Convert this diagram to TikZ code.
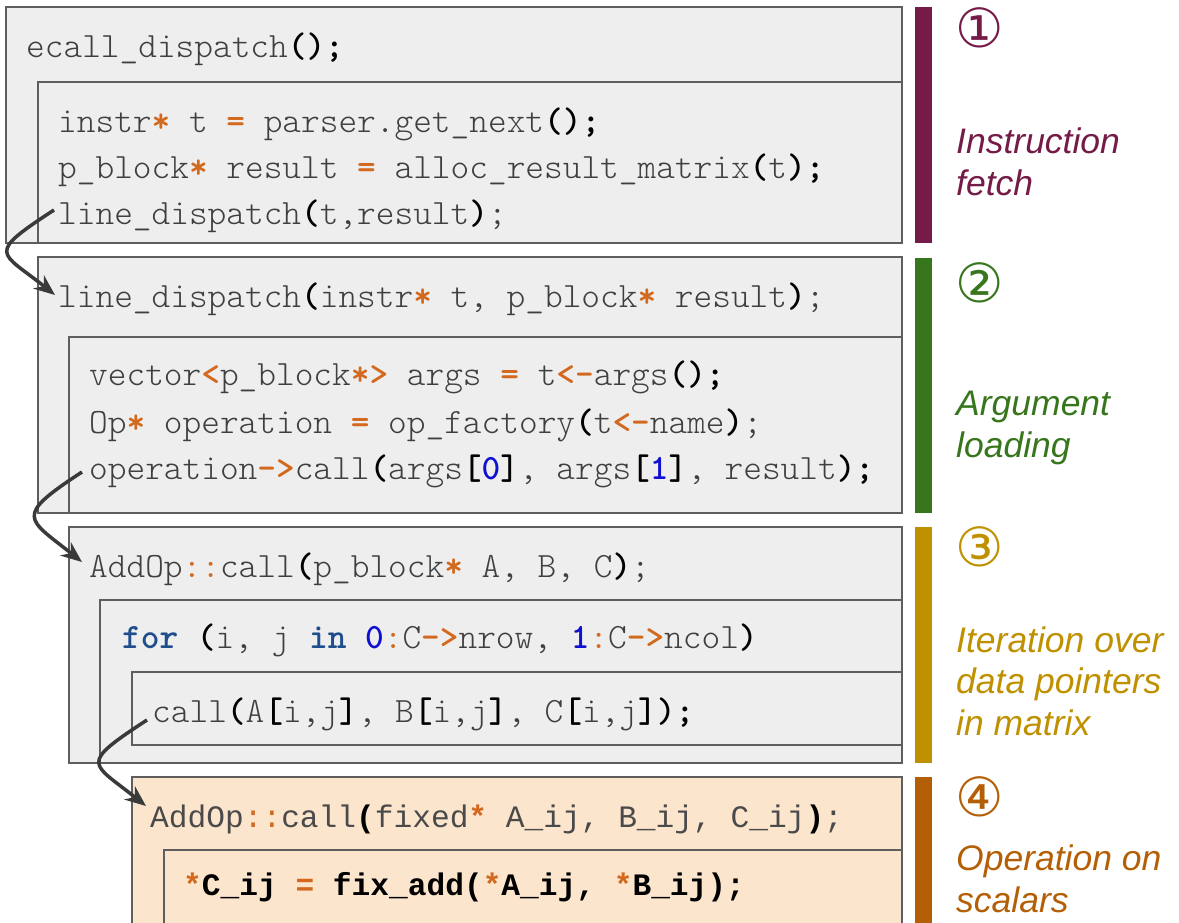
\documentclass[tikz,border=0pt]{standalone}
\usepackage{fontspec}
\usepackage{xcolor}
\usetikzlibrary{arrows.meta}
\newfontfamily\labfont{Liberation Sans}
\newfontfamily\circfont{DejaVu Sans}
\newfontfamily\libmono{Liberation Mono}
\definecolor{cmag}{HTML}{741B47}
\definecolor{cgrn}{HTML}{38761D}
\definecolor{cyel}{HTML}{BF9000}
\definecolor{corg}{HTML}{B45F06}
\definecolor{boxfill}{HTML}{EEEEEE}
\definecolor{peach}{HTML}{FCE5CD}
\definecolor{edge}{HTML}{5E5E5E}
\definecolor{codec}{HTML}{3F3F3F}
\definecolor{codeb}{HTML}{4A4A4A}
\definecolor{opc}{HTML}{D2691E}
\definecolor{kwc}{HTML}{1F4E8C}
\definecolor{numc}{HTML}{1010D0}
\definecolor{arrc}{HTML}{3A3A3A}
\newcommand\cop[1]{{\color{opc}\bfseries #1}}
\newcommand\copl[1]{{\color{opc}#1}}
\newcommand\cpu[1]{{\color{black}\bfseries #1}}
\newcommand\ckw[1]{{\color{kwc}\bfseries #1}}
\newcommand\cnum[1]{{\color{numc}\bfseries #1}}
\newcommand\codefont{\fontsize{35.6pt}{40pt}\ttfamily\fontseries{l}\selectfont}
\newcommand\codefontb{\fontsize{31.2pt}{36pt}\libmono}
\begin{document}
\begin{tikzpicture}[x=1pt,y=-1pt,
  box/.style={draw=edge, line width=2pt, fill=boxfill},
  pbox/.style={draw=edge, line width=2pt, fill=peach},
  code/.style={anchor=base west, inner sep=0pt, font=\codefont, text=codec},
  codeb/.style={anchor=base west, inner sep=0pt, font=\codefontb, text=codeb},
  lab/.style={anchor=base west, inner sep=0pt, font=\fontsize{35.5pt}{42pt}\labfont\itshape},
  circ/.style={inner sep=0pt, font=\fontsize{54pt}{58pt}\circfont},
  arr/.style={draw=arrc, line width=3.5pt, -{Stealth[length=21pt,width=17pt]}}]
\useasboundingbox (0,0) rectangle (1179,922);
\clip (0,0) rectangle (1179,922);
% boxes
\path[box] (6,7) rectangle (902,243);
\path[box] (37.5,82) rectangle (902,243);
\path[box] (37.5,257) rectangle (902,513);
\path[box] (69,337) rectangle (902,513);
\path[box] (69,527) rectangle (902,763);
\path[box] (100,600) rectangle (902,763);
\path[box] (132,672) rectangle (902,745);
\path[pbox] (132,777) rectangle (902,960);
\path[pbox] (164,850) rectangle (902,960);
% bars
\fill[cmag] (915,7) rectangle (932,243);
\fill[cgrn] (915,258) rectangle (932,513);
\fill[cyel] (915,527) rectangle (932,763);
\fill[corg] (915,777) rectangle (932,960);
% code box 1
\node[code] (l1) at (26,57) {ecall\_dispatch\cpu{();}};
\node[code] (l2) at (58,132) {instr\cop{*} t \cop{=} parser.get\_next\cpu{();}};
\node[code] (l3) at (58,178) {p\_block\cop{*} result \cop{=} alloc\_result\_matrix\cpu{(}t\cpu{);}};
\node[code] (l4) at (58,224) {line\_dispatch\cpu{(}t,result\cpu{)};};
% code box 2
\node[code] (m1) at (58,307) {line\_dispatch\cpu{(}instr\cop{*} t, p\_block\cop{*} result\cpu{)};};
\node[code] (m2) at (89,385) {vector\cop{<}p\_block\cop{*>} args \cop{=} t\cop{<-}args\cpu{();}};
\node[code] (m3) at (89,433) {Op\cop{*} operation \cop{=} op\_factory\cpu{(}t\cop{<-}name\cpu{)};};
\node[code] (m4) at (89,479) {operation\cop{->}call\cpu{(}args\cpu{[}\cnum{0}\cpu{]}, args\cpu{[}\cnum{1}\cpu{]}, result\cpu{);}};
% code box 3
\node[code] (n1) at (89,577) {AddOp\copl{::}call\cpu{(}p\_block\cop{*} A, B, C\cpu{)};};
\node[code] (n2) at (122,648) {\ckw{for} \cpu{(}i, j \ckw{in} \cnum{0}\copl{:}C\cop{->}nrow, \cnum{1}\copl{:}C\cop{->}ncol\cpu{)}};
\node[code] (n3) at (152,722) {call\cpu{(}A\cpu{[}i,j\cpu{]}, B\cpu{[}i,j\cpu{]}, C\cpu{[}i,j\cpu{]);}};
% code box 4
\node[codeb] (o1) at (150,827) {AddOp\copl{::}call\cpu{(}fixed\cop{*} A\_ij, B\_ij, C\_ij\cpu{)};};
\node[codeb, text=black, font=\codefontb\bfseries] (o2) at (183,895) {\cop{*}C\_ij \cop{=} fix\_add(\cop{*}A\_ij, \cop{*}B\_ij);};
% circled numbers
\node[circ, text=cmag] (c1) at (980,28) {①};
\node[circ, text=cgrn] (c2) at (980,283) {②};
\node[circ, text=cyel] (c3) at (980,547) {③};
\node[circ, text=corg] (c4) at (980,797) {④};
% labels
\node[lab, text=cmag] (t1a) at (956,153) {Instruction};
\node[lab, text=cmag] (t1b) at (956,195) {fetch};
\node[lab, text=cgrn] (t2a) at (956,415) {Argument};
\node[lab, text=cgrn] (t2b) at (956,457) {loading};
\node[lab, text=cyel] (t3a) at (956,652) {Iteration over};
\node[lab, text=cyel] (t3b) at (956,693) {data pointers};
\node[lab, text=cyel] (t3c) at (956,735) {in matrix};
\node[lab, text=corg] (t4a) at (956,870) {Operation on};
\node[lab, text=corg] (t4b) at (956,912) {scalars};
% arrows
\draw[arr] ([shift={(-4,-14)}]l4.base west) .. controls +(-69,45) and +(-55,-44) .. ([shift={(-3,-12)}]m1.base west);
\draw[arr] ([shift={(-7,-7)}]m4.base west) .. controls +(-69,45) and +(-55,-44) .. ([shift={(-7,-15)}]n1.base west);
\draw[arr] ([shift={(-5,-2)}]n3.base west) .. controls +(-69,45) and +(-55,-44) .. ([shift={(-4,-21)}]o1.base west);
\end{tikzpicture}
\end{document}
